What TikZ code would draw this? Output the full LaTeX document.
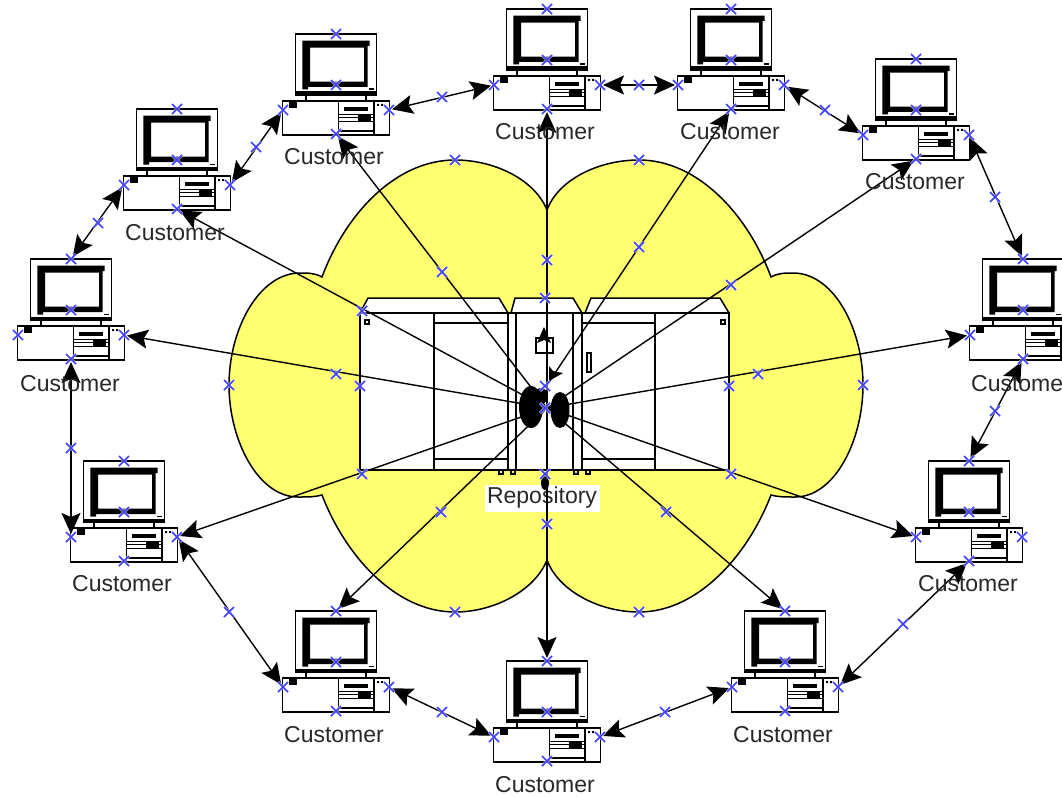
\documentclass[tikz,border=0pt]{standalone}
\usepackage{fontspec}
\setmainfont{Liberation Sans}
\usetikzlibrary{arrows.meta}
\definecolor{cloudyellow}{RGB}{255,255,112}
\definecolor{handleblue}{RGB}{64,64,255}
\definecolor{labelgrey}{RGB}{40,40,40}
\tikzset{
  bighead/.tip={Stealth[length=21pt,width=19pt,inset=4pt,black]},
  outline/.style={draw=black,line width=1.5pt},
  thin outline/.style={draw=black,line width=1.1pt},
  cloudshape/.style={draw=black,line width=1.5pt,fill=cloudyellow},
  ringlink/.style={line width=1.4pt,draw=black,bighead-bighead,shorten <=3pt,shorten >=3pt},
  spoke/.style={line width=1.4pt,draw=black,-bighead,shorten >=3pt},
  custlabel/.style={inner sep=0pt,text=labelgrey,font=\fontsize{23}{25}\selectfont},
  repolabel/.style={fill=white,inner sep=0pt,minimum width=115pt,minimum height=27pt,text=labelgrey,font=\fontsize{23}{25}\selectfont},
}
\newcommand{\handlemark}[1]{%
  \draw[white,opacity=.65,line width=3pt] ([shift={(-5,-5)}]#1) -- ([shift={(5,5)}]#1) ([shift={(-5,5)}]#1) -- ([shift={(5,-5)}]#1);
  \draw[handleblue,line width=1.5pt] ([shift={(-5,-5)}]#1) -- ([shift={(5,5)}]#1) ([shift={(-5,5)}]#1) -- ([shift={(5,-5)}]#1);
}
\newcommand{\computer}[3]{%
  \begin{scope}[shift={(#2,#3)}]
    \coordinate (c#1t) at (0,-76);
    \coordinate (c#1s) at (0,-25);
    \coordinate (c#1l) at (-53,0);
    \coordinate (c#1r) at (53,0);
    \coordinate (c#1b) at (0,24);
    \filldraw[outline,fill=white] (-40.3,-76) rectangle (40.3,-15);
    \fill[black,even odd rule] (-33.7,-69.3) -- (33.7,-69.3) -- (33.7,-64) -- (31.5,-64) -- (31.5,-23) -- (-28,-23) -- (-28,-20.5) -- (-33.7,-20.5) -- cycle (-26,-62.3) rectangle (28,-28.3);
    \fill[black] (-40.3,-18.5) rectangle (40.3,-15);
    \fill[black] (33,-21.5) rectangle (38,-20);
    \filldraw[thin outline,fill=white] (-30,-15) rectangle (30,-9);
    \filldraw[outline,fill=white] (-53.7,-9) rectangle (53.7,25);
    \draw[thin outline] (2.3,-9) -- (2.3,25) (38,-9) -- (38,25);
    \fill[black] (8,-3) rectangle (32,1);
    \draw[thin outline] (2.3,4.3) -- (38,4.3) (2.3,7.7) -- (38,7.7) (2.3,11.7) -- (38,11.7) (2.3,21) -- (38,21);
    \fill[black] (22,5) rectangle (35,11);
    \fill[black] (-47,-8) rectangle (-39,-2);
    \fill[black] (41,-6) rectangle (43,-4) (45,-6) rectangle (47,-4);
  \end{scope}
}
\begin{document}
\begin{tikzpicture}[x=1pt,y=-1pt]
\useasboundingbox (0,0) rectangle (1062,797);
\fill[white] (0,0) rectangle (1062,797);
% cloud
\path[cloudshape] (322,277)
  .. controls (345,215) and (395,160) .. (455,160)
  .. controls (495,160) and (535,180) .. (547,210)
  .. controls (558,180) and (598,160) .. (639,160)
  .. controls (698,160) and (748,215) .. (771,277)
  .. controls (778,273) and (785,273) .. (795,273)
  .. controls (835,275) and (863,330) .. (863,385)
  .. controls (863,440) and (835,497) .. (795,497)
  .. controls (785,497) and (778,497) .. (771,495)
  .. controls (748,555) and (698,612) .. (639,612)
  .. controls (598,612) and (558,590) .. (547,560)
  .. controls (535,590) and (495,612) .. (455,612)
  .. controls (395,612) and (345,555) .. (322,495)
  .. controls (315,497) and (308,497) .. (298,497)
  .. controls (258,497) and (229,440) .. (229,385)
  .. controls (229,330) and (258,275) .. (298,273)
  .. controls (308,273) and (315,273) .. (322,277)
  -- cycle;
% repository
\filldraw[outline,fill=white] (360,313) -- (368,298) -- (499,298) -- (508,313) -- cycle;
\filldraw[outline,fill=white] (511,313) -- (515,298) -- (573,298) -- (582,313) -- cycle;
\filldraw[outline,fill=white] (585,313) -- (591,298) -- (720,298) -- (729,313) -- cycle;
\filldraw[outline,fill=white] (360,313) rectangle (729,470);
\draw[outline] (434,313) -- (434,470) (508,313) -- (508,470) (516,313) -- (516,470)
  (573,313) -- (573,470) (582,313) -- (582,470) (655,313) -- (655,470)
  (434,323) -- (508,323) (582,323) -- (655,323) (434,459) -- (508,459) (582,459) -- (655,459);
\draw[thin outline] (365,320) rectangle (369,324) (721,320) rectangle (725,324)
  (499,470) rectangle (503,474) (511,470) rectangle (515,474)
  (574,470) rectangle (578,474) (586,470) rectangle (590,474)
  (536,338) rectangle (553,353) (587,353) rectangle (591,372);
\node[repolabel] (repo) at (542,498) {Repository};
% hub coordinates
\coordinate (hub) at (547,408);
\coordinate (hubup) at (547,385);
% computers
\computer{1}{547}{85}
\computer{2}{731}{85}
\computer{3}{916}{135}
\computer{4}{1023}{335}
\computer{5}{969}{537}
\computer{6}{785}{687}
\computer{7}{547}{737}
\computer{8}{336}{687}
\computer{9}{124}{537}
\computer{10}{71}{335}
\computer{11}{177}{185}
\computer{12}{336}{110}
% ring links
\draw[ringlink] (c1r) -- (c2l);
\draw[ringlink] (c2r) -- (c3l);
\draw[ringlink] (c3r) -- (c4t);
\draw[ringlink] (c4b) -- (c5t);
\draw[ringlink] (c5b) -- (c6r);
\draw[ringlink] (c6l) -- (c7r);
\draw[ringlink] (c7l) -- (c8r);
\draw[ringlink] (c8l) -- (c9r);
\draw[ringlink] (c9l) -- (c10b);
\draw[ringlink] (c10t) -- (c11l);
\draw[ringlink] (c11r) -- (c12l);
\draw[ringlink] (c12r) -- (c1l);
% spokes
\draw[spoke] (hub) -- (c1b);
\draw[spoke] (hubup) -- (c2b);
\draw[spoke] (hub) -- (c3b);
\draw[spoke] (hub) -- (c4l);
\draw[spoke] (hub) -- (c5l);
\draw[spoke] (hub) -- (c6t);
\draw[spoke] (hubup) -- (c7t);
\draw[spoke] (hub) -- (c8t);
\draw[spoke] (hub) -- (c9r);
\draw[spoke] (hub) -- (c10r);
\draw[spoke] (hub) -- (c11b);
\draw[spoke] (hub) -- (c12b);
% arrowheads crowding at the hub
\fill[black] (531,407) ellipse (12 and 21);
\fill[black] (541,396) ellipse (7 and 8);
\fill[black] (560,410) ellipse (9.5 and 18);
\fill[black] (545,483) ellipse (4 and 7);
\fill[black] (544,327) -- (551,343) -- (544,340) -- (537,343) -- cycle;
\fill[black] (549,381) -- (549,366) -- (553,371) -- (563,373) -- cycle;
% labels
\foreach \n/\x/\y in {lab1/545/132,lab2/730/132,lab3/915/182,lab4/1021/384,lab5/968/584,lab6/783/735,lab7/545/785,lab8/334/735,lab9/122/584,lab10/70/384,lab11/175/233,lab12/334/157}
  \node[custlabel] (\n) at (\x,\y) {Customer};
% handles
\foreach \n in {1,...,12} \foreach \a in {t,s,l,r,b} {\handlemark{c\n\a}}
\foreach \x/\y in {442/97,639/85,825/110,995/197,995/411,903/624,665/712,442/712,229/612,71/448,98/223,256/147,442/272,547/260,639/247,731/285,758/374,666/512,547/524,441/512,336/374,362/311,731/474,362/474,545/298,360/386,729/386,545/474,545/386,545/408,455/160,639/160,229/385,863/385,455/612,639/612} {
  \coordinate (hm) at (\x,\y); \handlemark{hm}
}
\end{tikzpicture}
\end{document}
